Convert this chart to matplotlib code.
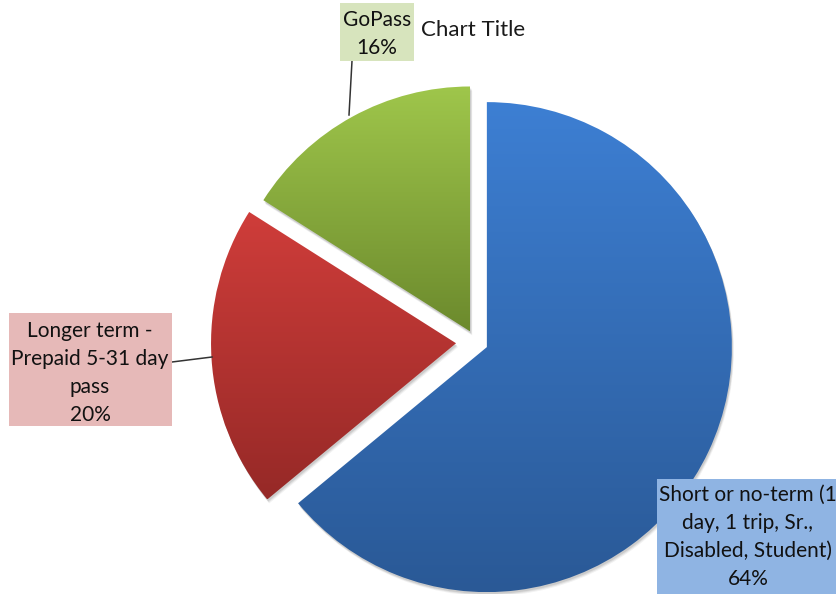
import numpy as np
import matplotlib.pyplot as plt
from matplotlib.patches import Rectangle, Wedge

plt.rcParams['font.family'] = ['Lato', 'DejaVu Sans']

labels = ['Short or no-term (1\nday, 1 trip, Sr.,\nDisabled, Student)',
          'Longer term -\nPrepaid 5-31 day\npass',
          'GoPass']
values = [64, 20, 16]
explode = [12, 20, 12]
top_colors = ['#3d7fd3', '#cf3d3a', '#9fc64b']
bottom_colors = ['#2a5996', '#962927', '#6c8a2d']
box_colors = ['#8fb4e3', '#e6b9b8', '#d7e4bd']

W, H = 836, 594
fig = plt.figure(figsize=(W / 100, H / 100), dpi=100)
ax = fig.add_axes([0, 0, 1, 1])

wedges, _ = ax.pie(values, radius=245, center=(476, 252), explode=explode,
                   startangle=90, counterclock=False,
                   wedgeprops=dict(linewidth=0))
ax.set_aspect('equal')
ax.axis('off')


def hex_rgb(c):
    c = c.lstrip('#')
    return np.array([int(c[i:i + 2], 16) / 255 for i in (0, 2, 4)])


# soft shadow under each slice, then a vertical gradient clipped to the slice
for w, c0, c1 in zip(wedges, top_colors, bottom_colors):
    for k, a in [(4, 0.05), (3, 0.07), (2, 0.09)]:
        ax.add_patch(Wedge((w.center[0] + k * 0.5, w.center[1] - k),
                           w.r, w.theta1, w.theta2, facecolor='black',
                           alpha=a, linewidth=0, zorder=0.5))
    w.set_facecolor('none')
    w.set_zorder(2)
    ext = w.get_path().get_extents(w.get_patch_transform())
    t = np.linspace(0, 1, 256)[:, None]
    grad = (1 - t)[..., None] * hex_rgb(c0) + t[..., None] * hex_rgb(c1)
    grad = np.repeat(grad, 2, axis=1)
    im = ax.imshow(grad, extent=(ext.x0, ext.x1, ext.y0, ext.y1),
                   origin='upper', aspect='auto', zorder=1)
    im.set_clip_path(w)

ax.set_xlim(0, W)
ax.set_ylim(0, H)

ax.text(473, 564, 'Chart Title', fontsize=16, ha='center', va='center',
        color='#1a1a1a', zorder=5)

# label boxes: (x0, y0, x1, y1) in pixels, text centre, leader line
boxes = [(657, -10, 860, 115), (9, 168, 172, 281), (340, 533, 414, 591)]
text_pos = [(748, 57), (90, 221), (377, 560)]
leaders = [None, [(172, 232), (212, 237)], [(352, 533), (349, 479)]]

for lab, v, col, (x0, y0, x1, y1), (tx, ty), ld in zip(
        labels, values, box_colors, boxes, text_pos, leaders):
    ax.add_patch(Rectangle((x0, y0), x1 - x0, y1 - y0, facecolor=col,
                           edgecolor='none', zorder=4))
    ax.text(tx, ty, f'{lab}\n{v}%', fontsize=15, ha='center', va='center',
            linespacing=1.5, color='#111111', zorder=5)
    if ld is not None:
        ax.plot([ld[0][0], ld[1][0]], [ld[0][1], ld[1][1]], color='#333333',
                linewidth=1.1, zorder=3)

fig.savefig('out.png', dpi=100)
